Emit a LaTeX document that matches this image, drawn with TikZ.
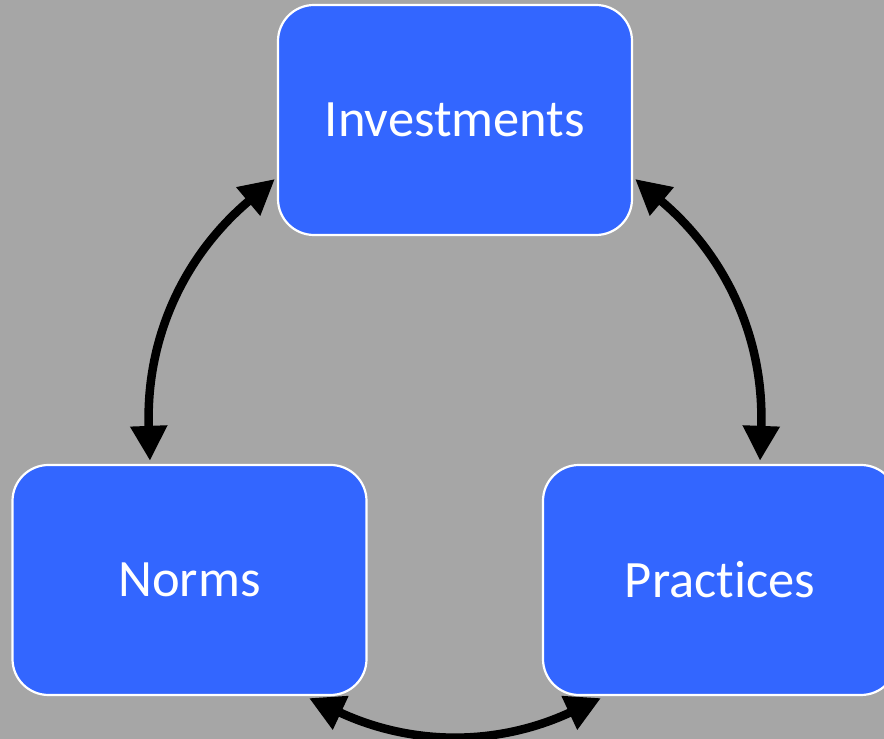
\documentclass[tikz,border=0pt]{standalone}
\usepackage{fontspec}
\setmainfont{Carlito}[Ligatures=NoCommon]
\usetikzlibrary{arrows.meta}
\definecolor{bg}{HTML}{A6A6A6}
\definecolor{boxblue}{HTML}{3366FF}
\begin{document}
\begin{tikzpicture}[x=1pt,y=1pt,
  box/.style={draw=white, line width=2.2pt, fill=boxblue, rounded corners=36pt,
    minimum width=354pt, minimum height=230pt, inner sep=0pt, text=white,
    font=\fontsize{52.5}{60}\selectfont},
  link/.style={line width=8.5pt,
    {Triangle[width=35pt,length=35pt]}-{Triangle[width=35pt,length=35pt]}}]
\fill[bg] (0,0) rectangle (884,739);
\useasboundingbox (0,0) rectangle (884,739);
\node[box] (inv) at (455,619) {Investments};
\node[box] (norms) at (189.5,159) {Norms};
\node[box] (prac) at (720,159) {Practices};
\coordinate (a) at ([shift={(-2,-59)}]inv.west);
\coordinate (c) at ([shift={(2,-59)}]inv.east);
\coordinate (b) at ([shift={(-39.5,3)}]norms.north);
\coordinate (d) at ([shift={(40,3)}]prac.north);
\coordinate (e) at ([shift={(119.5,-2)}]norms.south);
\coordinate (f) at ([shift={(-119,-2)}]prac.south);
\draw[link] (a) to[bend right=26] (b);
\draw[link] (c) to[bend left=26] (d);
\draw[link] (e) to[bend right=25] (f);
\end{tikzpicture}
\end{document}
